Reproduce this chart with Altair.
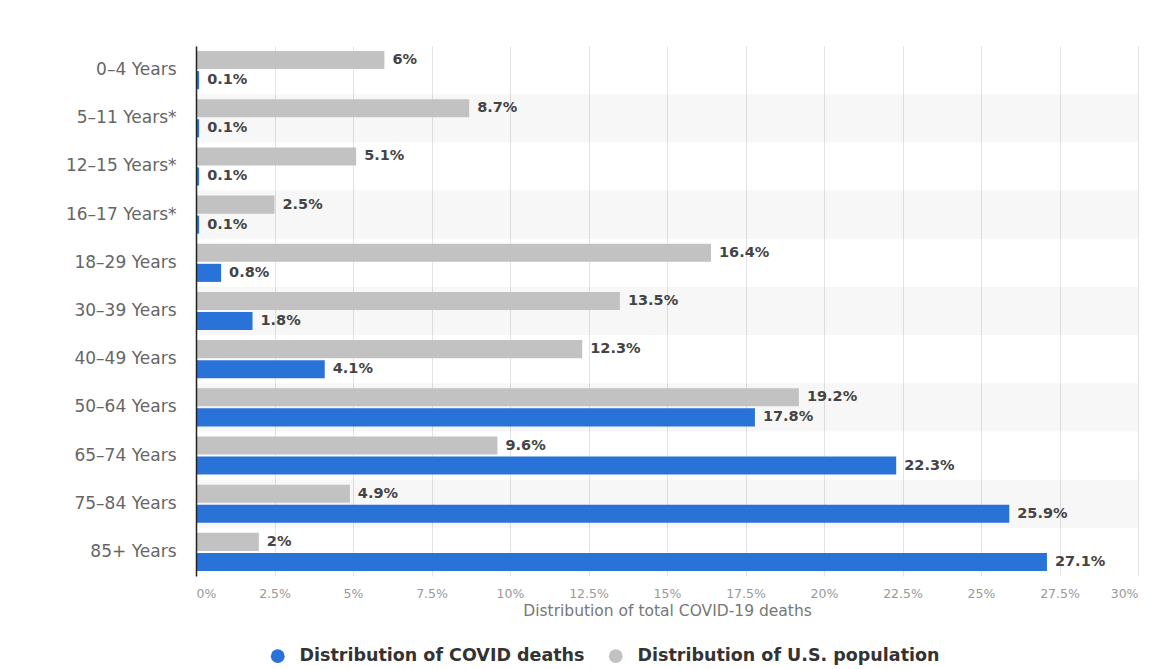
import altair as alt
import pandas as pd

categories = ["0–4 Years", "5–11 Years*", "12–15 Years*", "16–17 Years*", "18–29 Years",
              "30–39 Years", "40–49 Years", "50–64 Years", "65–74 Years", "75–84 Years", "85+ Years"]
covid_deaths = [0.1, 0.1, 0.1, 0.1, 0.8, 1.8, 4.1, 17.8, 22.3, 25.9, 27.1]
us_population = [6, 8.7, 5.1, 2.5, 16.4, 13.5, 12.3, 19.2, 9.6, 4.9, 2]
x_ticks = [0, 2.5, 5, 7.5, 10, 12.5, 15, 17.5, 20, 22.5, 25, 27.5, 30]

S_DEATHS = "Distribution of COVID deaths"
S_POP = "Distribution of U.S. population"

def fmt(v):
    return f"{v:g}%"

rows = []
for c, d, p in zip(categories, covid_deaths, us_population):
    rows.append({"cat": c, "series": S_POP, "value": p, "label": fmt(p)})
    rows.append({"cat": c, "series": S_DEATHS, "value": d, "label": fmt(d)})
df = pd.DataFrame(rows)

stripes = pd.DataFrame({"cat": categories[1::2]})

W, H = 942, 530

y_enc = alt.Y("cat:N", sort=categories,
              scale=alt.Scale(paddingInner=0, paddingOuter=0),
              axis=alt.Axis(title=None, domain=True, domainColor="#222222", domainWidth=1.5,
                            ticks=False, labelPadding=20, labelFontSize=17,
                            labelFont="DejaVu Sans", labelColor="#666666", grid=False))

x_scale = alt.Scale(domain=[0, 30], nice=False)

stripe_layer = alt.Chart(stripes).mark_rect(color="#000000", opacity=0.03).encode(
    y=y_enc,
    x=alt.value(0),
    x2=alt.value(W),
)

yoff = alt.YOffset("series:N", scale=alt.Scale(domain=[S_POP, S_DEATHS], paddingInner=0.1, paddingOuter=0.25))

bars = alt.Chart(df).mark_bar().encode(
    y=y_enc,
    yOffset=yoff,
    x=alt.X("value:Q", scale=x_scale,
            axis=alt.Axis(title="Distribution of total COVID-19 deaths", values=x_ticks,
                          labelExpr="datum.value + '%'", domain=False, ticks=False,
                          grid=True, gridColor="#e3e3e3", labelColor="#999999",
                          labelFont="DejaVu Sans", labelFontSize=12.5, labelPadding=11,
                          titleColor="#777777", titleFont="DejaVu Sans", titleFontSize=15.5,
                          titleFontWeight="normal", titlePadding=4)),
    color=alt.Color("series:N",
                    scale=alt.Scale(domain=[S_DEATHS, S_POP], range=["#2872d8", "#c2c2c2"]),
                    legend=alt.Legend(title=None, orient="none", direction="horizontal",
                                      legendX=73, legendY=601, symbolType="circle",
                                      symbolSize=190, symbolStrokeWidth=0,
                                      labelFontSize=17.5, labelFontWeight="bold",
                                      labelFont="DejaVu Sans", labelColor="#333333",
                                      columnPadding=22, labelOffset=13, labelLimit=400)),
)

labels = alt.Chart(df).mark_text(align="left", baseline="middle", dx=8,
                                 font="DejaVu Sans", fontWeight="bold", fontSize=14.5,
                                 color="#444444").encode(
    y=y_enc,
    yOffset=yoff,
    x=alt.X("value:Q", scale=x_scale),
    text="label:N",
)

chart = alt.layer(stripe_layer, bars, labels).properties(
    width=W, height=H,
    autosize=alt.AutoSizeParams(type="none"),
    padding={"left": 196, "top": 46, "right": 30, "bottom": 93},
    background="white",
).configure_view(stroke=None)

chart.save("out.html", embed_options={"renderer": "svg", "actions": False})
